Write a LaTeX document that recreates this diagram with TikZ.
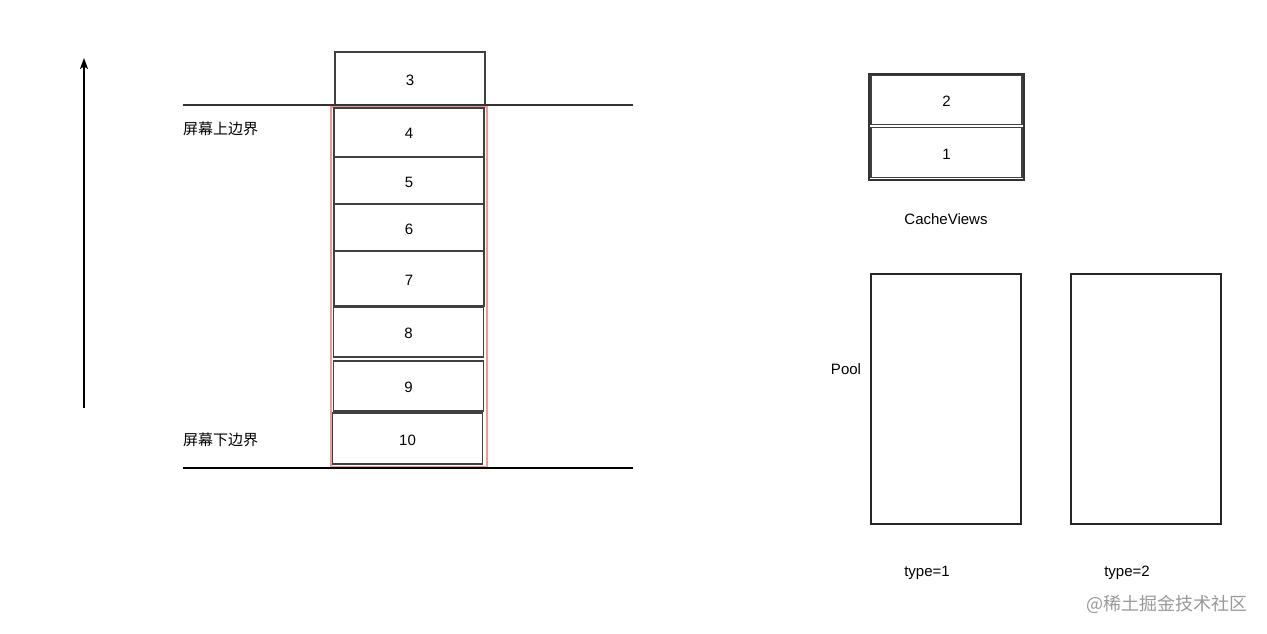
\documentclass[tikz,border=0pt]{standalone}
\usepackage{fontspec}
\setmainfont{Liberation Sans}
\newfontfamily\cjk{Noto Sans CJK SC}
\usetikzlibrary{arrows.meta, positioning}

\definecolor{edgered}{RGB}{245,150,150}

\begin{document}
\begin{tikzpicture}[x=1pt, y=-1pt, node distance=0pt,
  every node/.style={font=\fontsize{15}{18}\selectfont, text height=13pt, text depth=0pt},
  cell/.style={draw=black!75, line width=1.4pt, minimum width=150pt, inner sep=0pt, outer sep=0pt},
  frame/.style={draw=black!85, line width=1.3pt, minimum width=150pt, minimum height=250pt, inner sep=0pt, outer sep=0pt}]
\useasboundingbox (0,0) rectangle (1267,634);

% visible area
\node[draw=edgered, line width=1.5pt, minimum width=156pt, minimum height=360pt, inner sep=0pt, outer sep=0pt, anchor=north west] (screen) at (331,107) {};

\node[cell, minimum height=53pt] (c3) at (410,78.5) {3};
\node[cell, minimum height=49pt, anchor=north] (c4) at (409,108) {4};
\node[cell, minimum height=47pt, below=of c4] (c5) {5};
\node[cell, minimum height=47pt, below=of c5] (c6) {6};
\node[cell, minimum height=55pt, below=of c6] (c7) {7};
\node[cell, minimum height=50pt, below=1pt of c7, xshift=-0.5pt] (c8) {8};
\node[cell, minimum height=50pt, below=4pt of c8] (c9) {9};
\node[cell, minimum height=51pt, below=2pt of c9, xshift=-1pt] (c10) {10};

\coordinate (top l) at (183,105);
\coordinate (top r) at (633,105);
\coordinate (bot l) at (183,468);
\coordinate (bot r) at (633,468);
\draw[black!80, line width=1.3pt] (top l) -- (top r);
\draw[line width=1.3pt] (bot l) -- (bot r);
\node[anchor=west, inner sep=0pt] (upper) at (183,128) {\cjk 屏幕上边界};
\node[anchor=west, inner sep=0pt] (lower) at (183,439) {\cjk 屏幕下边界};

\coordinate (up a) at (84,408);
\coordinate (up b) at (84,58);
\draw[-{Stealth[length=11pt, width=8pt, inset=2.5pt]}, line width=1.3pt] (up a) -- (up b);

% cache
\node[draw=black!80, line width=1.4pt, minimum width=155pt, minimum height=106pt, inner sep=0pt, outer sep=0pt, anchor=north west] (cache) at (869,74) {};
\node[cell, minimum width=151pt, minimum height=49pt, anchor=north] (v2) at (946.5,75.5) {2};
\node[cell, minimum width=151pt, minimum height=50pt, anchor=north] (v1) at (946.5,127.5) {1};
\node (cachelabel) at (946,218) {CacheViews};

% pool
\node[frame, anchor=north west] (pool1) at (871,274) {};
\node[frame, right=50pt of pool1] (pool2) {};
\node (poollabel) at (846,368) {Pool};
\node (type1) at (927,570) {type=1};
\node (type2) at (1127,570) {type=2};

\node[anchor=east, inner sep=0pt, text=black!40, font=\fontsize{18}{20}\selectfont] (mark) at (1248,604) {\cjk @稀土掘金技术社区};
\end{tikzpicture}
\end{document}
